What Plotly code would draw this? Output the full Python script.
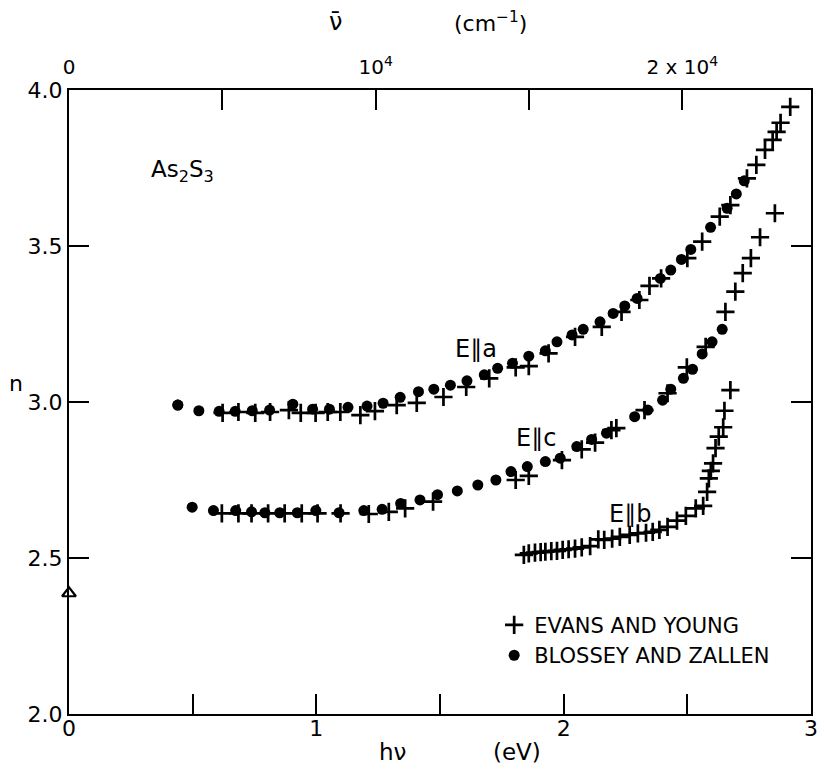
import plotly.graph_objects as go

# ---------------- data (photon energy in eV, refractive index n) ----------------
# E||a  Evans and Young (crosses)
ea_ey_ev = [0.621, 0.685, 0.753, 0.813, 0.889, 0.937, 0.997, 1.046, 1.097, 1.178, 1.237,
            1.325, 1.406, 1.514, 1.606, 1.699, 1.806, 1.859, 1.939, 2.046, 2.154, 2.234,
            2.306, 2.347, 2.394, 2.500, 2.560, 2.631, 2.674, 2.741, 2.779, 2.814, 2.845,
            2.861, 2.877, 2.916]
ea_ey_n = [2.965, 2.968, 2.965, 2.968, 2.974, 2.965, 2.965, 2.968, 2.968, 2.958, 2.971,
           2.990, 2.997, 3.016, 3.048, 3.076, 3.111, 3.115, 3.156, 3.209, 3.241, 3.289,
           3.327, 3.372, 3.396, 3.461, 3.514, 3.594, 3.631, 3.717, 3.760, 3.808, 3.840,
           3.866, 3.895, 3.946]
# E||a  Blossey and Zallen (dots)
ea_bz_ev = [0.440, 0.525, 0.607, 0.672, 0.741, 0.811, 0.905, 0.985, 1.053, 1.128, 1.205,
            1.270, 1.339, 1.413, 1.475, 1.542, 1.609, 1.679, 1.733, 1.793, 1.859, 1.926,
            1.973, 2.034, 2.079, 2.147, 2.200, 2.247, 2.297, 2.391, 2.433, 2.476, 2.514,
            2.594, 2.661, 2.698, 2.730]
ea_bz_n = [2.990, 2.972, 2.970, 2.970, 2.972, 2.974, 2.993, 2.977, 2.977, 2.983, 2.987,
           2.996, 3.015, 3.033, 3.041, 3.054, 3.068, 3.087, 3.108, 3.124, 3.147, 3.164,
           3.193, 3.215, 3.233, 3.257, 3.284, 3.308, 3.332, 3.396, 3.423, 3.457, 3.489,
           3.560, 3.621, 3.667, 3.709]
# E||c  Evans and Young
ec_ey_ev = [0.618, 0.685, 0.738, 0.805, 0.872, 0.941, 1.005, 1.098, 1.212, 1.293, 1.359,
            1.472, 1.806, 1.859, 1.993, 2.073, 2.127, 2.193, 2.213, 2.327, 2.420, 2.498,
            2.574, 2.654, 2.694, 2.724, 2.757, 2.794, 2.854]
ec_ey_n = [2.643, 2.643, 2.643, 2.643, 2.643, 2.643, 2.643, 2.643, 2.641, 2.648, 2.659,
           2.681, 2.750, 2.763, 2.814, 2.848, 2.870, 2.910, 2.916, 2.974, 3.028, 3.111,
           3.177, 3.289, 3.354, 3.413, 3.461, 3.528, 3.605]
# E||c  Blossey and Zallen
ec_bz_ev = [0.498, 0.584, 0.674, 0.738, 0.792, 0.852, 0.923, 0.998, 1.092, 1.192, 1.266,
            1.341, 1.419, 1.490, 1.570, 1.653, 1.726, 1.787, 1.853, 1.926, 1.986, 2.053,
            2.113, 2.173, 2.287, 2.340, 2.400, 2.433, 2.484, 2.521, 2.560, 2.600, 2.641]
ec_bz_n = [2.663, 2.652, 2.652, 2.648, 2.645, 2.645, 2.645, 2.652, 2.645, 2.652, 2.656,
           2.675, 2.686, 2.703, 2.715, 2.734, 2.750, 2.777, 2.793, 2.809, 2.820, 2.857,
           2.880, 2.900, 2.953, 2.974, 3.006, 3.041, 3.076, 3.105, 3.154, 3.193, 3.233]
# E||b  Evans and Young
eb_ey_ev = [1.839, 1.859, 1.884, 1.907, 1.926, 1.950, 1.973, 1.996, 2.020, 2.046, 2.073,
            2.107, 2.140, 2.164, 2.196, 2.227, 2.267, 2.300, 2.333, 2.360, 2.387, 2.420,
            2.458, 2.494, 2.534, 2.564, 2.580, 2.587, 2.595, 2.604, 2.614, 2.627, 2.645,
            2.650, 2.674]
eb_ey_n = [2.510, 2.515, 2.517, 2.519, 2.520, 2.522, 2.523, 2.526, 2.528, 2.530, 2.534,
           2.538, 2.560, 2.558, 2.562, 2.568, 2.574, 2.579, 2.581, 2.584, 2.590, 2.600,
           2.620, 2.635, 2.659, 2.667, 2.712, 2.755, 2.779, 2.803, 2.852, 2.889, 2.919,
           2.972, 3.038]
# static value (open triangle)
static_ev = [0.0]
static_n = [2.387]

EV_TO_CM = 8065.54

x_ticks = [0, 0.5, 1, 1.5, 2, 2.5, 3]
x_ticktext = ["0", "", "1", "", "2", "", "3"]
y_ticks = [2.0, 2.5, 3.0, 3.5, 4.0]
y_ticktext = ["2.0", "2.5", "3.0", "3.5", "4.0"]
top_ticks = [0, 5000, 10000, 15000, 20000]
top_ticktext = ["0", "", "10<sup>4</sup>", "", "2 x 10<sup>4</sup>"]

FONT = "DejaVu Sans"
W, H = 824, 770
L, R, T, B = 69, 6, 90, 56
PW, PH = W - L - R, H - T - B

cross = dict(symbol="cross-thin-open", size=13, color="black",
             line=dict(width=2.7, color="black"))
dot = dict(symbol="circle", size=11, color="black", line=dict(width=0))

fig = go.Figure()

fig.add_trace(go.Scatter(x=ea_bz_ev, y=ea_bz_n, mode="markers", marker=dot,
                         name="BLOSSEY AND ZALLEN", legendgroup="bz", showlegend=False))
fig.add_trace(go.Scatter(x=ec_bz_ev, y=ec_bz_n, mode="markers", marker=dot,
                         name="BLOSSEY AND ZALLEN", legendgroup="bz", showlegend=False))
fig.add_trace(go.Scatter(x=ea_ey_ev, y=ea_ey_n, mode="markers", marker=cross,
                         name="EVANS AND YOUNG", legendgroup="ey", showlegend=True,
                         legendrank=1))
fig.add_trace(go.Scatter(x=ec_ey_ev, y=ec_ey_n, mode="markers", marker=cross,
                         name="EVANS AND YOUNG", legendgroup="ey", showlegend=False))
fig.add_trace(go.Scatter(x=eb_ey_ev, y=eb_ey_n, mode="markers", marker=cross,
                         name="EVANS AND YOUNG", legendgroup="ey", showlegend=False))
fig.add_trace(go.Scatter(x=ea_bz_ev[:1], y=ea_bz_n[:1], mode="markers", marker=dot,
                         name="BLOSSEY AND ZALLEN", legendgroup="bz", showlegend=True,
                         legendrank=2))
fig.add_trace(go.Scatter(x=static_ev, y=static_n, mode="markers", cliponaxis=False,
                         marker=dict(symbol="triangle-up-open", size=12, color="black",
                                     line=dict(width=2.2, color="black")),
                         showlegend=False))
# invisible trace to activate the top (wavenumber) axis
fig.add_trace(go.Scatter(x=[0, 3 * EV_TO_CM], y=[2, 2], xaxis="x2", mode="markers",
                         marker=dict(opacity=0), showlegend=False, hoverinfo="skip"))

axis_common = dict(ticks="inside", ticklen=20, tickwidth=2, tickcolor="black",
                   showline=True, linewidth=2, linecolor="black", showgrid=False,
                   zeroline=False)

fig.update_layout(
    width=W, height=H,
    margin=dict(l=L, r=R, t=T, b=B),
    paper_bgcolor="white", plot_bgcolor="white",
    font=dict(family=FONT, size=20, color="black"),
    xaxis=dict(range=[0, 3], tickvals=x_ticks, ticktext=x_ticktext, mirror=False,
               tickfont=dict(size=22), ticklabelstandoff=-6, **axis_common),
    xaxis2=dict(range=[0, 3 * EV_TO_CM], overlaying="x", side="top",
                tickvals=top_ticks, ticktext=top_ticktext, ticklabelstandoff=6,
                tickfont=dict(size=20), **axis_common),
    yaxis=dict(range=[2, 4], tickvals=y_ticks, ticktext=y_ticktext, mirror="ticks",
               tickfont=dict(size=22), **axis_common),
    legend=dict(x=0.573, y=0.175, xanchor="left", yanchor="top",
                bgcolor="rgba(0,0,0,0)", font=dict(size=21), itemwidth=30,
                tracegroupgap=0, traceorder="grouped"),
    showlegend=True,
)

# labels inside the plot (data coordinates)
for txt, xv, yv, sz in [("As<sub>2</sub>S<sub>3</sub>", 0.457, 3.74, 23),
                        ("E∥a", 1.646, 3.17, 24),
                        ("E∥c", 1.890, 2.885, 24),
                        ("E∥b", 2.267, 2.641, 24)]:
    fig.add_annotation(x=xv, y=yv, xref="x", yref="y", text=txt, showarrow=False,
                       xanchor="center", yanchor="middle", font=dict(size=sz))


# axis titles positioned in pixels (converted to paper fractions)
def px(xp, yp):
    return (xp - L) / PW, (H - B - yp) / PH


for txt, xp, yp, sz in [("n", 15, 383, 22), ("hν", 396, 752, 23), ("(eV)", 521, 752, 23),
                        ("ν̄", 338, 22, 24), ("(cm<sup>−1</sup>)", 494, 22, 22)]:
    xx, yy = px(xp, yp)
    fig.add_annotation(x=xx, y=yy, xref="paper", yref="paper", text=txt,
                       showarrow=False, xanchor="center", yanchor="middle",
                       font=dict(size=sz))

fig.write_html("out.html")
